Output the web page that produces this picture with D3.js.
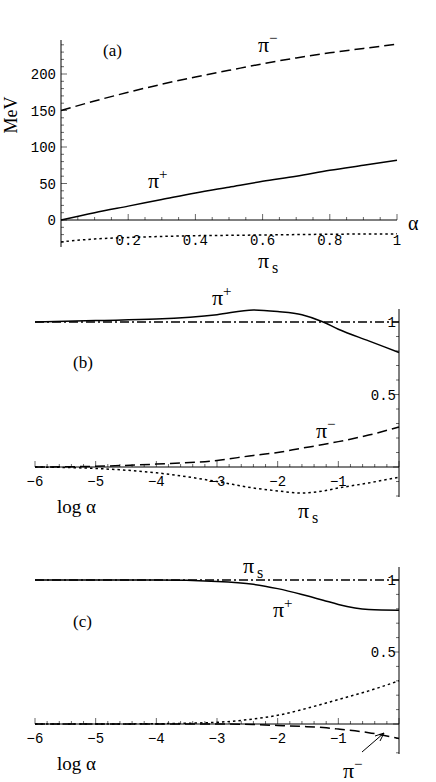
<!DOCTYPE html><html><head><meta charset="utf-8"><script src="https://cdn.jsdelivr.net/npm/d3@7"></script>
<style>body{margin:0;background:#fff}svg{display:block}</style></head><body>
<svg id="c" width="436" height="782"></svg>
<script>
const aX=[0,0.1,0.2,0.3,0.4,0.5,0.6,0.7,0.8,0.9,1];
const aPiMinus=[150,163,175,186,196,205,214,222,229,235,241];
const aPiPlus=[0,10,19,28,37,45,53,60,68,75,82];
const aPiS=[-30,-26,-24,-22.5,-21.5,-21,-20.5,-20,-19.5,-19.2,-19];
const aTicksX=[0.2,0.4,0.6,0.8,1];
const aTicksY=[0,50,100,150,200];
const lX=[-6,-5,-4,-3,-2.4,-2,-1.6,-1.25,-1,-0.5,0];
const bPiPlus=[1.0,1.01,1.02,1.05,1.083,1.072,1.05,1.0,0.95,0.87,0.79];
const bPiMinus=[0,0.005,0.02,0.045,0.08,0.1,0.13,0.155,0.175,0.22,0.276];
const bPiS=[0,-0.01,-0.04,-0.1,-0.145,-0.165,-0.18,-0.165,-0.145,-0.11,-0.07];
const cPiPlus=[1,1,1,0.99,0.97,0.94,0.9,0.86,0.83,0.795,0.79];
const cPiS=[1,1,1,1,1,1,1,1,1,1,1];
const cDot=[0,0,0.002,0.012,0.035,0.06,0.1,0.14,0.17,0.23,0.3];
const cPiMinus=[0,0,0,0,-0.004,-0.01,-0.017,-0.025,-0.035,-0.06,-0.1];
const lTicksX=[-6,-5,-4,-3,-2,-1];
const svg=d3.select("#c");
const MONO="'Liberation Mono','DejaVu Sans Mono',monospace", SERIF="'Liberation Serif','DejaVu Serif',serif";
const line=(x,y)=>d3.line().x(d=>x(d[0])).y(d=>y(d[1])).curve(d3.curveMonotoneX);
function path(xs,ys,x,y,dash,w){svg.append("path").attr("d",line(x,y)(xs.map((v,i)=>[v,ys[i]]))).attr("fill","none").attr("stroke","#000").attr("stroke-width",w||1.5).attr("stroke-dasharray",dash||null);}
function txt(x,y,s,size,mono){return svg.append("text").attr("x",x).attr("y",y).attr("font-family",mono?MONO:SERIF).attr("font-size",size||18).text(s);}
function pi(x,y,sup,sub){const t=txt(x,y,"π",22);if(sup)t.append("tspan").attr("dy",-9).attr("font-size",15).text(sup);if(sub)t.append("tspan").attr("dx",3).attr("dy",5).attr("font-size",16).text(sub);}
// Panel a
const xa=d3.scaleLinear().domain([0,1]).range([61,397]);
const ya=d3.scaleLinear().domain([0,200]).range([220,74]);
const ga=svg.append("g");
ga.append("line").attr("x1",61).attr("x2",61).attr("y1",40).attr("y2",247).attr("stroke","#000");
ga.append("line").attr("x1",61).attr("x2",397).attr("y1",ya(0)).attr("y2",ya(0)).attr("stroke","#000");
d3.range(-30,245,10).forEach(v=>ga.append("line").attr("x1",61).attr("x2",v%50?64:67).attr("y1",ya(v)).attr("y2",ya(v)).attr("stroke","#000").attr("stroke-width",0.6));
d3.range(0.05,1.01,0.05).forEach(v=>ga.append("line").attr("x1",xa(v)).attr("x2",xa(v)).attr("y1",ya(0)).attr("y2",ya(0)-(Math.round(v*20)%4?3:6)).attr("stroke","#000").attr("stroke-width",0.6));
aTicksY.forEach(v=>txt(56,ya(v)+5,v,14,true).attr("text-anchor","end"));
aTicksX.forEach(v=>txt(xa(v),245,v,14,true).attr("text-anchor","middle"));
path(aX,aPiMinus,xa,ya,"10,5");
path(aX,aPiPlus,xa,ya);
path(aX,aPiS,xa,ya,"2.5,3");
txt(103,56,"(a)",17);
txt(408,230,"α",20);
txt(17,115,"MeV",18).attr("transform","rotate(-90,17,115)").attr("text-anchor","middle");
pi(258,52,"−");pi(148,188,"+");pi(258,268,null,"s");
function logPanel(y1,y0){
 const x=d3.scaleLinear().domain([-6,0]).range([35,399]);
 const y=d3.scaleLinear().domain([0,1]).range([y0,y1]);
 svg.append("line").attr("x1",399).attr("x2",399).attr("y1",y1-13).attr("y2",y0+30).attr("stroke","#000");
 svg.append("line").attr("x1",35).attr("x2",399).attr("y1",y0).attr("y2",y0).attr("stroke","#000");
 d3.range(-6,0.01,0.2).forEach(v=>{const m=Math.abs(v-Math.round(v))<0.01;svg.append("line").attr("x1",x(v)).attr("x2",x(v)).attr("y1",y0).attr("y2",y0-(m?6:3)).attr("stroke","#000").attr("stroke-width",0.6);});
 d3.range(-0.2,1.1,0.1).forEach(v=>{const m=Math.abs(v*2-Math.round(v*2))<0.01;svg.append("line").attr("x1",399).attr("x2",m?393:396).attr("y1",y(v)).attr("y2",y(v)).attr("stroke","#000").attr("stroke-width",0.6);});
 lTicksX.forEach(v=>txt(x(v),y0+19,"−"+Math.abs(v),14,true).attr("text-anchor","middle"));
 txt(396,y(1)+5,"1",14,true).attr("text-anchor","end");
 txt(396,y(0.5)+5,"0.5",14,true).attr("text-anchor","end");
 txt(57,y0+46,"log α",19);
 return {x,y};
}
const b=logPanel(322,467);
svg.append("line").attr("x1",35).attr("x2",399).attr("y1",b.y(1)).attr("y2",b.y(1)).attr("stroke","#000").attr("stroke-width",1.5).attr("stroke-dasharray","9,3,2,3");
path(lX,bPiPlus,b.x,b.y);path(lX,bPiMinus,b.x,b.y,"10,5");path(lX,bPiS,b.x,b.y,"2.5,3");
txt(73,368,"(b)",17);pi(212,305,"+");pi(316,438,"−");pi(298,518,null,"s");
const c=logPanel(580,724);
path(lX,cPiS,c.x,c.y,"9,3,2,3");path(lX,cPiPlus,c.x,c.y);path(lX,cDot,c.x,c.y,"2.5,3");path(lX,cPiMinus,c.x,c.y,"10,5");
txt(73,627,"(c)",17);pi(243,573,null,"s");pi(273,617,"+");pi(343,778,"−");
svg.append("line").attr("x1",362).attr("y1",752).attr("x2",384).attr("y2",733).attr("stroke","#000");
svg.append("path").attr("d","M384,733 L375,736 M384,733 L380,741").attr("stroke","#000").attr("fill","none");
</script></body></html>
